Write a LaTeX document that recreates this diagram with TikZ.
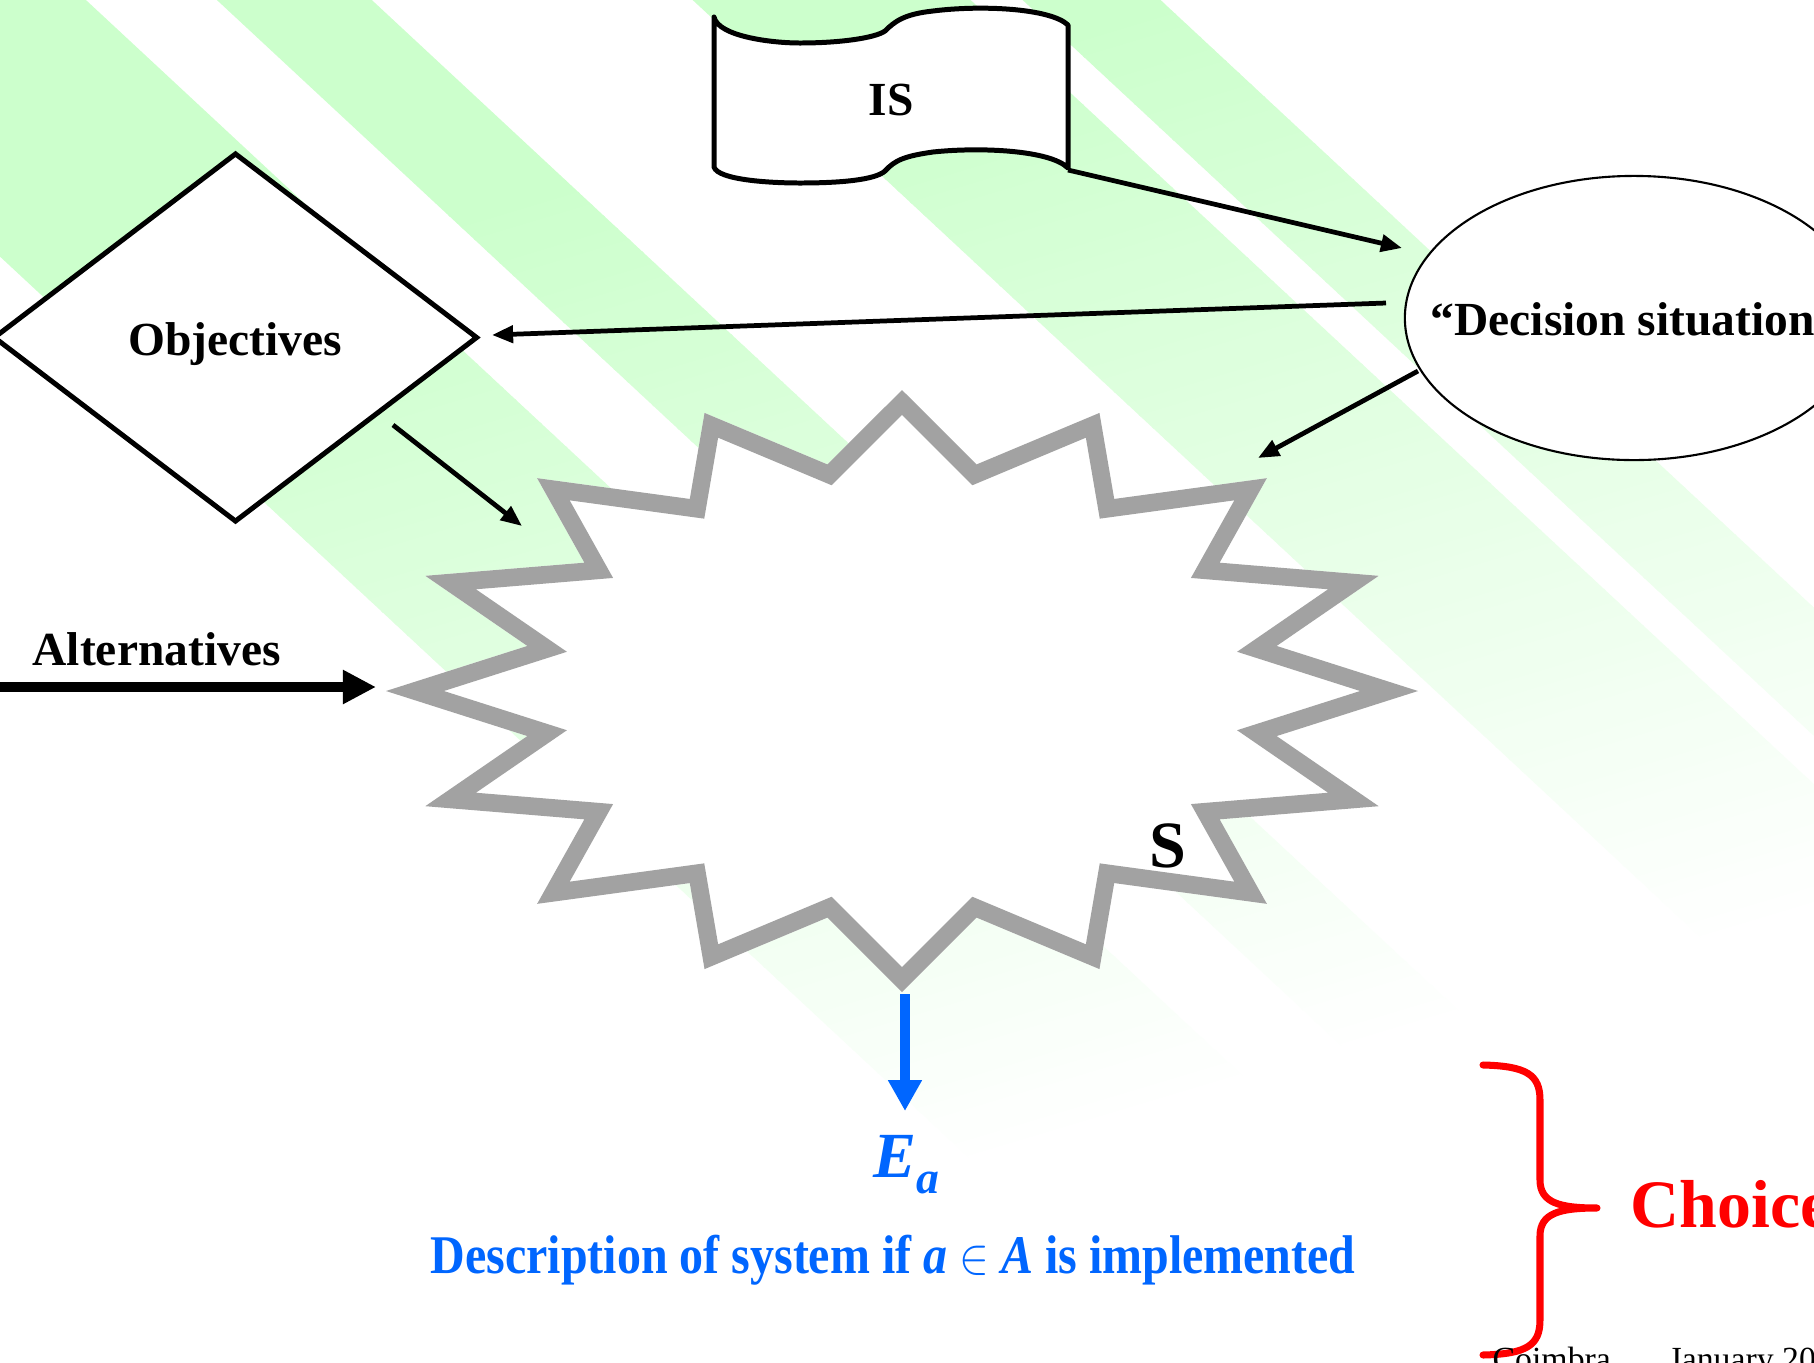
\documentclass[tikz,border=0pt]{standalone}
\usepackage{fontspec}
\setmainfont{Liberation Serif}
\usetikzlibrary{shapes.geometric,arrows.meta}
\definecolor{stripeg}{RGB}{204,255,204}
\definecolor{bandgray}{RGB}{162,162,162}
\definecolor{descblue}{RGB}{0,102,255}
\definecolor{bracered}{RGB}{255,0,0}

\begin{document}
\begin{tikzpicture}[x=0.01cm,y=-0.01cm,
  lbl/.style={inner sep=0pt, font=\fontsize{13.5pt}{16pt}\selectfont\bfseries},
  thinarrow/.style={line width=1.35pt, -{Triangle[length=6pt,width=4.8pt]}},
  fatarrow/.style={line width=2.85pt, -{Triangle[length=9.4pt,width=9.1pt]}},
  bluearrow/.style={descblue, line width=3.1pt, -{Triangle[length=8.8pt,width=9.1pt]}},
  outline/.style={draw, fill=white, line width=1.42pt}]

\useasboundingbox (0,0) rectangle (1814,1363);
\clip (0,0) rectangle (1814,1363);
\fill[white] (0,0) rectangle (1814,1363);

% diagonal background stripes, fading towards the bottom
\begin{scope}
  \clip[rotate=-42.92]
    (-500,-58.5) rectangle (3000,187.9)
    (-500,-253.2) rectangle (3000,-147.7)
    (-500,-661.0) rectangle (3000,-471.7)
    (-500,-790.3) rectangle (3000,-696.4);
  \begin{scope}[rotate=-73.3]
    \fill[stripeg] (-500,-1900) rectangle (337,500);
    \foreach \u in {335,350,...,1385}{
      \pgfmathsetmacro\pct{(1389-\u)/10.54}
      \fill[stripeg!\pct!white] (\u,-1900) rectangle (\u+17,500);
    }
  \end{scope}
\end{scope}

% sixteen-point star for the system S
\foreach \k in {0,...,15}{
  \coordinate (o\k) at ({902+516*cos(\k*22.5)},{691-301*sin(\k*22.5)});
  \coordinate (c\k) at ({902+382*cos(\k*22.5+11.25)},{691-231*sin(\k*22.5+11.25)});
}
\fill[white] (o0) -- (c0) \foreach \k in {1,...,15}{ -- (o\k) -- (c\k)} -- cycle;
\begin{scope}
  \clip (o0) -- (c0) \foreach \k in {1,...,15}{ -- (o\k) -- (c\k)} -- cycle;
  \draw[bandgray, line width=10pt]
    (o0) -- (c0) \foreach \k in {1,...,15}{ -- (o\k) -- (c\k)} -- cycle;
\end{scope}
\coordinate (starBot) at (905,994);
\node[inner sep=0pt, anchor=base west, font=\fontsize{18.8pt}{21pt}\selectfont\bfseries] (slbl) at (1149,867) {S};

% information system (punched tape)
\path[outline, line join=round]
  (714,17) .. controls (718,36) and (770,43) .. (800,43)
  .. controls (840,43) and (875,38) .. (885,31)
  .. controls (895,21) and (905,14) .. (933,11)
  .. controls (980,5) and (1050,8) .. (1068,25)
  -- (1068,168)
  .. controls (1050,150) and (980,147) .. (933,152)
  .. controls (905,156) and (895,160) .. (885,171)
  .. controls (875,180) and (840,183) .. (800,183)
  .. controls (770,183) and (718,180) .. (714,167) -- cycle;
\node[lbl, anchor=base] (is) at (891,115) {IS};
\coordinate (isBR) at (1068,170);

% objectives
\node[outline, diamond, minimum width=4.84cm, minimum height=3.69cm, inner sep=0pt] (obj) at (235.5,337.5) {};
\node[lbl, anchor=base] (objt) at (235,355) {Objectives};

% decision situation
\node[draw, ellipse, fill=white, line width=0.6pt, minimum width=4.58cm, minimum height=2.84cm, inner sep=0pt] (ds) at (1634,318) {};
\node[lbl, anchor=base west] (dst) at (1430,335) {“Decision situation};

% connectors
\coordinate (dsIn) at (1402,248);
\coordinate (dsOutL) at (1386,303);
\coordinate (objIn) at (492,335);
\coordinate (dsOutD) at (1418,371);
\coordinate (starInR) at (1258,458);
\coordinate (objOut) at (393,425);
\coordinate (starInL) at (522,526);
\coordinate (altStart) at (0,687);
\coordinate (starInW) at (376,687);
\coordinate (eaTip) at (905,1111);

\draw[thinarrow] (isBR) -- (dsIn);
\draw[thinarrow] (dsOutL) -- (objIn);
\draw[thinarrow] (dsOutD) -- (starInR);
\draw[thinarrow] (objOut) -- (starInL);
\draw[fatarrow] (altStart) -- (starInW);
\draw[bluearrow] (starBot) -- (eaTip);

\node[lbl, anchor=base west] (alt) at (32,665) {Alternatives};

% evaluation of the alternative
\node[inner sep=0pt, anchor=base west, text=descblue, font=\fontsize{18.3pt}{21pt}\selectfont\bfseries\itshape] (ea) at (873,1177) {E\raisebox{-4.6pt}{\fontsize{13pt}{15pt}\selectfont a}};
\node[lbl, anchor=base west, text=descblue, font=\fontsize{15.5pt}{18pt}\selectfont\bfseries, xscale=0.88] (desc) at (430,1273) {Description of system if \textit{a} $\in$ \textit{A} is implemented};

% choice brace
\draw[bracered, line width=2pt, line cap=round, line join=round]
  (1483,1065) .. controls (1527,1066) and (1540,1075) .. (1540,1100)
  -- (1540,1180) .. controls (1540,1203) and (1560,1208) .. (1597,1208)
  .. controls (1560,1208) and (1540,1213) .. (1540,1236)
  -- (1540,1320) .. controls (1540,1345) and (1527,1354) .. (1483,1355);
\node[inner sep=0pt, anchor=base west, text=bracered, font=\fontsize{19.3pt}{22pt}\selectfont\bfseries] (choice) at (1630,1227) {Choice};

% footer
\node[inner sep=0pt, anchor=base west, font=\fontsize{9.6pt}{11pt}\selectfont] (place) at (1492,1370) {Coimbra};
\node[inner sep=0pt, anchor=base west, font=\fontsize{9.6pt}{11pt}\selectfont] (date) at (1668,1370) {January 200};
\end{tikzpicture}
\end{document}
